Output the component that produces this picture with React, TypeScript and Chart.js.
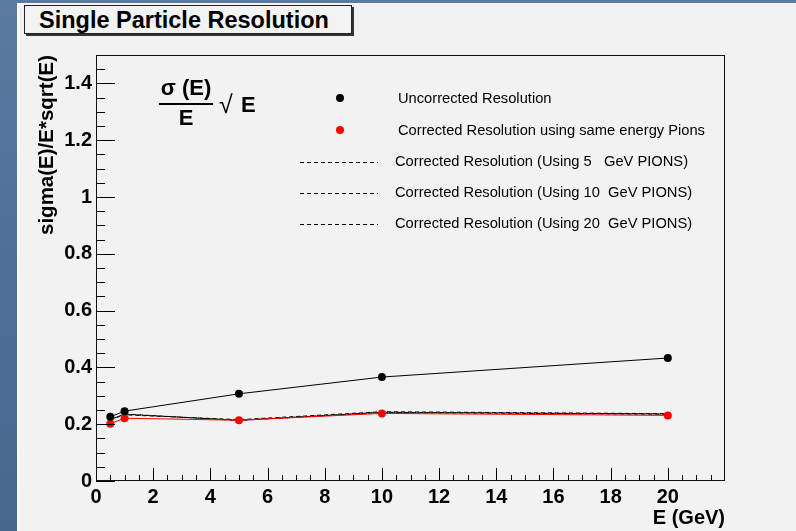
import { useEffect, useRef } from "react";
import { Chart, registerables } from "chart.js";

Chart.register(...registerables);

// Beam energies (GeV) and the resolution values measured at each one
const energies = [0.5, 1, 5, 10, 20];
const uncorrected = [0.226, 0.246, 0.307, 0.366, 0.433];
const correctedSameEnergy = [0.202, 0.221, 0.214, 0.238, 0.231];
const correctedPion5 = [0.214, 0.235, 0.214, 0.241, 0.235];
const correctedPion10 = [0.218, 0.233, 0.216, 0.244, 0.237];
const correctedPion20 = [0.216, 0.236, 0.213, 0.242, 0.236];

// Axis ranges and tick spacing
const xMax = 22;
const xLastLabel = 20;
const xMinorStep = 0.5;
const xMinorPerMajor = 4;
const yMax = 1.5;
const yMinorStep = 0.05;
const yMinorPerMajor = 4;

const titleText = "Single Particle Resolution";
const xTitle = "E (GeV)";
const yTitle = "sigma(E)/E*sqrt(E)";
const legendLabels = [
  "Uncorrected Resolution",
  "Corrected Resolution using same energy Pions",
  "Corrected Resolution (Using 5   GeV PIONS)",
  "Corrected Resolution (Using 10  GeV PIONS)",
  "Corrected Resolution (Using 20  GeV PIONS)",
];

const FONT = "'Liberation Sans', Arial, Helvetica, sans-serif";
const DASH = [4, 3];
const DASH_PERIOD = DASH[0] + DASH[1];

const toPoints = (ys: number[]) => energies.map((x, i) => ({ x, y: ys[i] }));

// Frame plus inward-pointing ticks, in the usual physics-plot style
const frameTicks = {
  id: "frameTicks",
  afterDatasetsDraw(chart: any) {
    const { ctx, chartArea: a, scales } = chart;
    ctx.save();
    ctx.strokeStyle = "#000";
    ctx.lineWidth = 1;
    ctx.beginPath();
    scales.y.ticks.forEach((t: any) => {
      const k = Math.round(t.value / yMinorStep);
      const py = Math.round(scales.y.getPixelForValue(t.value)) + 0.5;
      const len = k % yMinorPerMajor === 0 ? 19 : 9;
      ctx.moveTo(a.left, py);
      ctx.lineTo(a.left + len, py);
    });
    scales.x.ticks.forEach((t: any) => {
      if (t.value >= xMax) return;
      const k = Math.round(t.value / xMinorStep);
      const px = Math.round(scales.x.getPixelForValue(t.value)) + 0.5;
      const len = k % xMinorPerMajor === 0 ? 13 : 6;
      ctx.moveTo(px, a.bottom);
      ctx.lineTo(px, a.bottom - len);
    });
    ctx.stroke();
    ctx.strokeStyle = "#111";
    ctx.strokeRect(a.left + 0.5, a.top + 0.5, a.right - a.left - 1, a.bottom - a.top - 1);
    ctx.restore();
  },
};

// Formula label and the legend block inside the plot frame
const annotations = {
  id: "annotations",
  afterDraw(chart: any) {
    const { ctx, chartArea: a } = chart;
    const L = a.left;
    const T = a.top;
    ctx.save();
    ctx.fillStyle = "#000";
    ctx.strokeStyle = "#000";

    // sigma(E)/E * sqrt(E)
    ctx.font = `bold 22px ${FONT}`;
    ctx.textAlign = "center";
    ctx.textBaseline = "alphabetic";
    ctx.fillText("σ (E)", L + 90, T + 40);
    ctx.lineWidth = 2;
    ctx.beginPath();
    ctx.moveTo(L + 63, T + 49);
    ctx.lineTo(L + 117, T + 49);
    ctx.stroke();
    ctx.fillText("E", L + 90, T + 70);
    ctx.textAlign = "left";
    ctx.font = `25px ${FONT}`;
    ctx.fillText("√", L + 123, T + 58);
    ctx.font = `bold 22px ${FONT}`;
    ctx.fillText("E", L + 145, T + 57);

    // legend
    const rows = [43, 75, 107, 138, 169];
    ctx.font = `14.7px ${FONT}`;
    ctx.textBaseline = "middle";
    ctx.lineWidth = 1;
    rows.forEach((dy, i) => {
      const y = T + dy;
      if (i < 2) {
        ctx.fillStyle = i === 0 ? "#000" : "#ff0000";
        ctx.beginPath();
        ctx.arc(L + 244, y, 4, 0, Math.PI * 2);
        ctx.fill();
        ctx.fillStyle = "#000";
        ctx.fillText(legendLabels[i], L + 302, y + 1);
      } else {
        ctx.setLineDash(DASH);
        ctx.beginPath();
        ctx.moveTo(L + 204, Math.round(y) + 0.5);
        ctx.lineTo(L + 282, Math.round(y) + 0.5);
        ctx.stroke();
        ctx.setLineDash([]);
        ctx.fillText(legendLabels[i], L + 299, y);
      }
    });
    ctx.restore();
  },
};

export default function App() {
  const canvasRef = useRef<HTMLCanvasElement | null>(null);

  useEffect(() => {
    if (!canvasRef.current) return;
    const pionLine = (data: number[], label: string, idx: number) => ({
      label,
      data: toPoints(data),
      borderColor: "#000",
      borderWidth: 1,
      borderDash: DASH,
      borderDashOffset: (idx * DASH_PERIOD) / 3,
      pointRadius: 0,
      tension: 0,
      order: 2 + idx,
    });
    const chart = new Chart(canvasRef.current, {
      type: "line",
      data: {
        datasets: [
          {
            label: legendLabels[0],
            data: toPoints(uncorrected),
            borderColor: "#000",
            borderWidth: 1,
            pointRadius: 4,
            pointBorderWidth: 0,
            pointBackgroundColor: "#000",
            tension: 0,
            order: 0,
          },
          {
            label: legendLabels[1],
            data: toPoints(correctedSameEnergy),
            borderColor: "#ff0000",
            borderWidth: 1,
            pointRadius: 4,
            pointBorderWidth: 0,
            pointBackgroundColor: "#ff0000",
            tension: 0,
            order: 1,
          },
          pionLine(correctedPion5, legendLabels[2], 0),
          pionLine(correctedPion10, legendLabels[3], 1),
          pionLine(correctedPion20, legendLabels[4], 2),
        ],
      },
      options: {
        responsive: false,
        animation: false,
        events: [],
        layout: { padding: { left: 0, top: 55, right: 71, bottom: 0 } },
        plugins: { legend: { display: false }, tooltip: { enabled: false }, title: { display: false } },
        scales: {
          x: {
            type: "linear",
            min: 0,
            max: xMax,
            grid: { display: false, drawTicks: false },
            border: { display: false },
            afterFit: (s: any) => {
              s.height = 50;
            },
            ticks: {
              stepSize: xMinorStep,
              autoSkip: false,
              maxRotation: 0,
              padding: 4,
              color: "#000",
              font: { family: FONT, size: 20, weight: "bold" },
              callback: (v: any) => {
                const k = Math.round(Number(v) / xMinorStep);
                if (k % xMinorPerMajor !== 0 || Number(v) > xLastLabel + 0.01) return "";
                return String(Math.round(Number(v)));
              },
            },
            title: {
              display: true,
              text: xTitle,
              align: "end",
              color: "#000",
              font: { family: FONT, size: 20, weight: "bold" },
              padding: { top: 0, bottom: 1 },
            },
          },
          y: {
            type: "linear",
            min: 0,
            max: yMax,
            grid: { display: false, drawTicks: false },
            border: { display: false },
            afterFit: (s: any) => {
              s.width = 96;
            },
            ticks: {
              stepSize: yMinorStep,
              autoSkip: false,
              padding: 4,
              color: "#000",
              font: { family: FONT, size: 20, weight: "bold" },
              callback: (v: any) => {
                const k = Math.round(Number(v) / yMinorStep);
                if (k % yMinorPerMajor !== 0) return "";
                return String(Number((k * yMinorStep).toFixed(1)));
              },
            },
            title: {
              display: true,
              text: yTitle,
              align: "end",
              color: "#000",
              font: { family: FONT, size: 20.5, weight: "bold" },
              padding: { top: 35.5, bottom: 0 },
            },
          },
        },
      },
      plugins: [frameTicks, annotations],
    } as any);
    return () => chart.destroy();
  }, []);

  return (
    <div
      style={{
        position: "fixed",
        left: 0,
        top: 0,
        width: 796,
        height: 531,
        overflow: "hidden",
        background: "linear-gradient(180deg, #5a7aa2 0%, #4f6f98 50%, #47678f 100%)",
        fontFamily: FONT,
      }}
    >
      <div
        style={{
          position: "absolute",
          left: 17,
          top: 3,
          right: 0,
          bottom: 0,
          background: "#f2f2f2",
          borderLeft: "2px solid #fbfbfb",
          borderTop: "1px solid #f8f8f8",
        }}
      />
      <div
        style={{
          position: "absolute",
          left: 24,
          top: 5,
          width: 312,
          height: 27,
          border: "1px solid #222",
          boxShadow: "2px 2px 0 #333",
          background: "#f3f3f3",
          color: "#000",
          fontWeight: "bold",
          fontSize: 23.5,
          lineHeight: "28px",
          paddingLeft: 14,
          boxSizing: "content-box",
          whiteSpace: "nowrap",
        }}
      >
        {titleText}
      </div>
      <canvas
        ref={canvasRef}
        width={796}
        height={531}
        style={{ position: "absolute", left: 0, top: 0, width: 796, height: 531 }}
      />
    </div>
  );
}
